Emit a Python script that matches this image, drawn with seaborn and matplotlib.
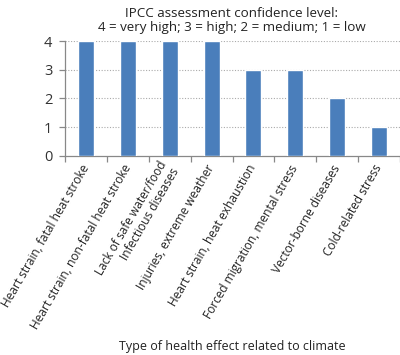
import matplotlib
matplotlib.use("Agg")
import matplotlib.pyplot as plt
import seaborn as sns
import pandas as pd
import numpy as np

categories = [
    "Heart strain, fatal heat stroke",
    "Heart strain, non-fatal heat stroke",
    "Lack of safe water/food\nInfectious diseases",
    "Injuries, extreme weather",
    "Heart strain, heat exhaustion",
    "Forced migration, mental stress",
    "Vector-borne diseases",
    "Cold-related stress",
]
confidence = [4, 4, 4, 4, 3, 3, 2, 1]
yticks = [0, 1, 2, 3, 4]

sns.set_theme(style="white")
plt.rcParams['font.family'] = ['Open Sans', 'DejaVu Sans']

df = pd.DataFrame({"cat": categories, "val": confidence})

fig = plt.figure(figsize=(4.0, 3.55), dpi=100)
ax = fig.add_axes([0.1625, 0.5606, 0.8375, 0.3239])
sns.barplot(data=df, x="cat", y="val", color="#4a7ebb", width=0.38,
            saturation=1, ax=ax, zorder=3)
ax.set_xlim(-0.5, len(categories) - 0.5)
ax.set_ylim(0, 4)
ax.set_yticks(yticks)
ax.set_yticklabels([str(t) for t in yticks], fontsize=10.5, color="#333333")
for y in yticks[1:]:
    ax.axhline(y, color="#aaaaaa", lw=0.8, ls=(0, (1, 1.5)), zorder=1)
for s in ["top", "right"]:
    ax.spines[s].set_visible(False)
for s in ["left", "bottom"]:
    ax.spines[s].set_color("#888888")
    ax.spines[s].set_linewidth(0.9)
ax.tick_params(axis="y", length=4, width=0.9, color="#888888", direction="out", left=True, pad=5)
ax.set_xticks(range(len(categories)))
ax.set_xticklabels(categories, rotation=60, ha="right", va="center",
                   rotation_mode="anchor", fontsize=8.6, color="#222222",
                   linespacing=1.05)
ax.tick_params(axis="x", which="major", length=0, pad=7)
ax.set_xticks(np.arange(-0.5, len(categories)), minor=True)
ax.tick_params(axis="x", which="minor", length=4, width=0.9, color="#888888", bottom=True)
ax.set_xlabel("")
ax.set_ylabel("")
fig.text(0.58, 0.943, "IPCC assessment confidence level:\n4 = very high; 3 = high; 2 = medium; 1 = low",
         ha="center", va="center", fontsize=9.6, color="#222222", linespacing=1.1)
fig.text(0.58, 0.025, "Type of health effect related to climate", ha="center", va="center",
         fontsize=9, color="#222222")
fig.savefig("out.png", dpi=100)
